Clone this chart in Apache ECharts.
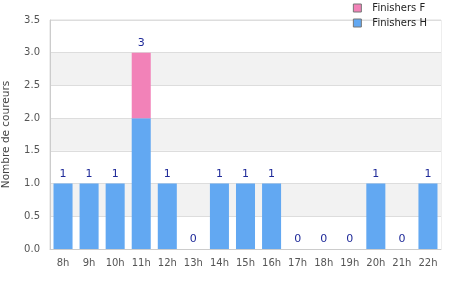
<!DOCTYPE html>
<html><head><meta charset="utf-8">
<script src="https://cdn.jsdelivr.net/npm/echarts@6/dist/echarts.min.js"></script>
<style>html,body{margin:0;padding:0;background:#fff}#c{width:450px;height:300px}</style>
</head><body><div id="c"></div>
<script>
var categories = ['8h','9h','10h','11h','12h','13h','14h','15h','16h','17h','18h','19h','20h','21h','22h'];
var finishersH = [1,1,1,2,1,0,1,1,1,0,0,0,1,0,1];
var finishersF = [0,0,0,1,0,0,0,0,0,0,0,0,0,0,0];
var totals = finishersH.map(function(v,i){return v+finishersF[i];});
var chart = echarts.init(document.getElementById('c'), null, {renderer:'canvas'});
var font = 'DejaVu Sans';
chart.setOption({
  animation:false,
  textStyle:{fontFamily:font},
  grid:{left:50,right:9,top:20,bottom:51,show:true,borderColor:'#dddddd',borderWidth:1,backgroundColor:'transparent',outerBoundsMode:'none',containLabel:false},
  legend:{
    orient:'vertical', right:23, top:3, padding:0, itemWidth:8, itemHeight:8, itemGap:5,
    data:[{name:'Finishers F',itemStyle:{borderColor:'#777',borderWidth:1}},{name:'Finishers H',itemStyle:{borderColor:'#777',borderWidth:1}}],
    textStyle:{fontFamily:font,fontSize:10,color:'#222',lineHeight:10,padding:[0,0,0,6]},
    icon:'rect'
  },
  xAxis:{
    type:'category', data:categories,
    axisLine:{lineStyle:{color:'#cccccc'}},
    axisTick:{show:false},
    axisLabel:{color:'#555',fontSize:10,fontFamily:font,margin:9,interval:0}
  },
  yAxis:{
    type:'value', min:0, max:3.5, interval:0.5,
    name:'Nombre de coureurs', nameLocation:'middle', nameGap:38, nameRotate:90,
    nameTextStyle:{color:'#444',fontSize:10.5,fontFamily:font},
    axisLine:{show:true,lineStyle:{color:'#cccccc'}},
    axisTick:{show:false},
    axisLabel:{color:'#555',fontSize:10,fontFamily:font,margin:10,formatter:function(v){return v.toFixed(1);}},
    splitLine:{lineStyle:{color:'#dddddd'}},
    splitArea:{show:true,areaStyle:{color:['#ffffff','#f2f2f2']}}
  },
  series:[
    {name:'Finishers H',type:'bar',stack:'t',data:finishersH,barWidth:'73%',itemStyle:{color:'#62a8f2'}},
    {name:'Finishers F',type:'bar',stack:'t',data:finishersF,barWidth:'73%',itemStyle:{color:'#f282b8'},
     label:{show:true,position:'top',distance:4,color:'#1f2a99',fontSize:11,fontFamily:font,
       formatter:function(p){return String(totals[p.dataIndex]);}}}
  ]
});
</script></body></html>
